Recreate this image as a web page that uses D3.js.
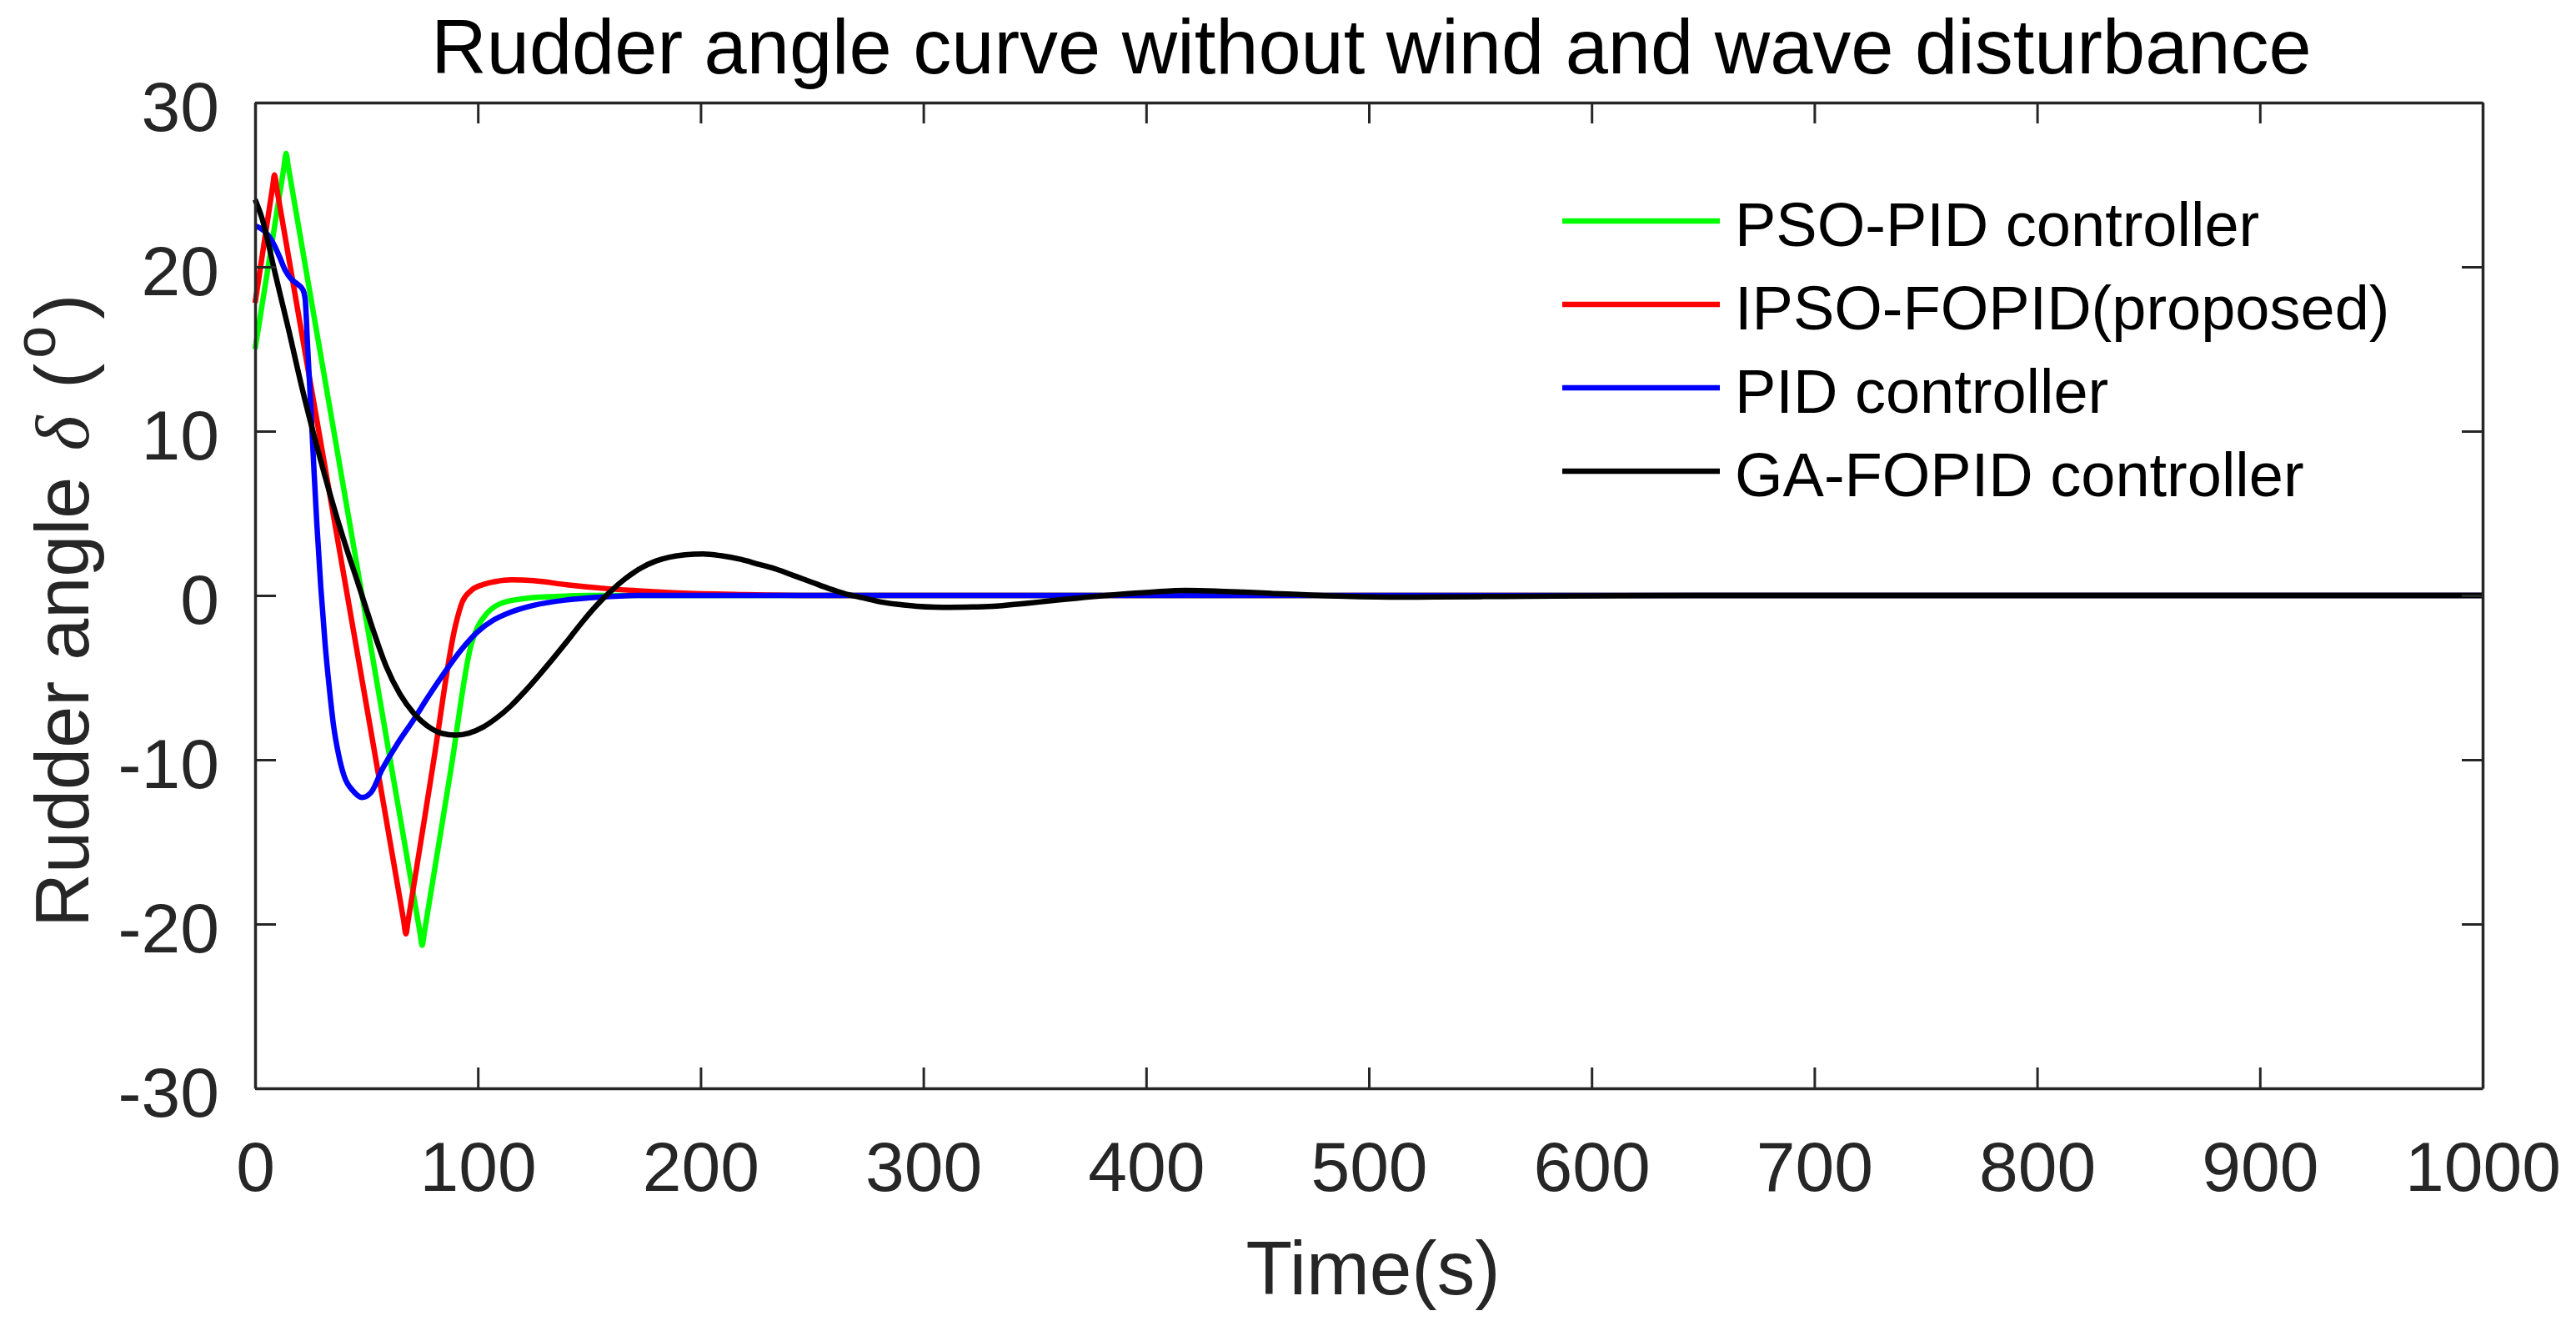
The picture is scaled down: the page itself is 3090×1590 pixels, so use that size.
<!DOCTYPE html>
<html>
<head>
<meta charset="utf-8">
<script src="https://cdn.jsdelivr.net/npm/d3@7"></script>
<style>
  body { margin: 0; background: #fff; }
  svg { display: block; font-family: "Liberation Sans", Arial, sans-serif; }
</style>
</head>
<body>
<svg id="chart"></svg>
<script>
// Curves: [time (s), rudder angle (deg)]
const psoPid = [
  [0, 15.0], [13, 26.1], [13.9, 26.9], [14.9, 26.1], [30, 14.2], [45, 2.4], [60, -9.5],
  [74, -20.5], [75, -21.3], [76, -20.5], [88, -10.5], [97, -3.0], [100, -1.9], [104, -1.1],
  [110, -0.5], [120, -0.2], [135, -0.06], [150, 0], [1000, 0]
];
const ipsoFopid = [
  [0, 17.8], [8, 25.0], [8.7, 25.6], [9.7, 24.8], [25, 12.8], [40, 1.1], [55, -10.6],
  [66.7, -19.8], [67.7, -20.6], [68.7, -19.8], [80, -10.2], [90, -1.8], [93, -0.4],
  [97, 0.3], [102, 0.65], [108, 0.85], [115, 0.95], [125, 0.9], [140, 0.65], [155, 0.45],
  [170, 0.3], [190, 0.15], [220, 0.05], [250, 0], [1000, 0]
];
const pid = [
  [0, 22.5], [4, 22.2], [8.3, 21.4], [11, 20.6], [13.5, 19.8], [16, 19.3], [19, 18.95],
  [21.5, 18.6], [22.5, 18.0], [23.6, 15.1], [24.8, 12.0], [26.3, 8.0], [27.7, 4.4],
  [29.5, 0.5], [31.4, -2.9], [33.3, -5.6], [35.2, -7.9], [37.5, -9.7], [40, -11.0],
  [44, -11.9], [48, -12.3], [52, -12.0], [57, -10.6], [64, -9.0], [71, -7.6], [78, -6.1],
  [85, -4.7], [92, -3.4], [100, -2.2], [107, -1.5], [115, -1.0], [125, -0.6], [140, -0.27],
  [155, -0.1], [175, 0], [1000, 0]
];
const gaFopid = [
  [0, 24.1], [3, 23.0], [9, 19.6], [15, 16.2], [21.3, 12.5], [27.5, 9.2], [34, 6.0],
  [40, 3.3], [46.4, 0.66], [52.5, -1.9], [58.8, -4.3], [65, -6.0], [71.4, -7.2], [78, -8.0],
  [84, -8.4], [90, -8.5], [96, -8.38], [102.5, -8.0], [108, -7.5], [115, -6.7], [121, -5.85],
  [127.5, -4.85], [134, -3.8], [140, -2.8], [147, -1.6], [153, -0.65], [160, 0.3], [166, 1.0],
  [173, 1.65], [180, 2.1], [186, 2.33], [193, 2.47], [201, 2.52], [209, 2.42], [218, 2.2],
  [226, 1.9], [234, 1.6], [242, 1.2], [250, 0.8], [258, 0.4], [265, 0.1], [273, -0.15],
  [281, -0.4], [289, -0.55], [297, -0.66], [305, -0.71], [312, -0.72], [322, -0.7],
  [333, -0.65], [342, -0.53], [352, -0.4], [361, -0.27], [370, -0.15], [380, -0.02],
  [391, 0.1], [404, 0.22], [418, 0.3], [431, 0.27], [444, 0.2], [457, 0.12], [470, 0.05],
  [483, -0.03], [496, -0.08], [510, -0.1], [530, -0.09], [560, -0.06], [600, -0.02],
  [650, 0], [1000, 0]
];

const seriesNames = ["PSO-PID controller", "IPSO-FOPID(proposed)", "PID controller", "GA-FOPID controller"];
const seriesData = [psoPid, ipsoFopid, pid, gaFopid];
const seriesColors = ["#00ff00", "#ff0000", "#0000ff", "#000000"];

const xTicks = [0, 100, 200, 300, 400, 500, 600, 700, 800, 900, 1000];
const yTicks = [-30, -20, -10, 0, 10, 20, 30];

// Set up dimensions
const width = 3090;
const height = 1590;
const margin = { top: 123, right: 112, bottom: 285, left: 306 };
const w = width - margin.left - margin.right;
const h = height - margin.top - margin.bottom;
const axisColor = "#262626";

const svg = d3.select("#chart")
    .attr("width", width)
    .attr("height", height);

const g = svg.append("g")
    .attr("transform", `translate(${margin.left}, ${margin.top})`);

const x = d3.scaleLinear().domain([0, 1000]).range([0, w]);
const y = d3.scaleLinear().domain([-30, 30]).range([h, 0]);

// Curves
const line = d3.line()
    .x(d => x(d[0]))
    .y(d => y(d[1]))
    .curve(d3.curveMonotoneX);

g.selectAll(".curve")
    .data(seriesData)
    .enter()
    .append("path")
    .attr("class", "curve")
    .attr("d", line)
    .attr("fill", "none")
    .attr("stroke", (d, i) => seriesColors[i])
    .attr("stroke-width", 6.5)
    .attr("stroke-linejoin", "round");

// Axes: ticks point inwards on all four sides
const fmt = d => String(d);
const tickLen = 25;

const axisB = g.append("g")
    .attr("transform", `translate(0, ${h})`)
    .call(d3.axisBottom(x).tickValues(xTicks).tickFormat(fmt).tickSizeInner(-tickLen).tickSizeOuter(0));
const axisL = g.append("g")
    .call(d3.axisLeft(y).tickValues(yTicks).tickFormat(fmt).tickSizeInner(-tickLen).tickSizeOuter(0));
const axisT = g.append("g")
    .call(d3.axisTop(x).tickValues(xTicks).tickFormat("").tickSizeInner(-tickLen).tickSizeOuter(0));
const axisR = g.append("g")
    .attr("transform", `translate(${w}, 0)`)
    .call(d3.axisRight(y).tickValues(yTicks).tickFormat("").tickSizeInner(-tickLen).tickSizeOuter(0));

[axisB, axisL, axisT, axisR].forEach(a => {
    a.select(".domain").attr("stroke", axisColor).attr("stroke-width", 3.5);
    a.selectAll(".tick line").attr("stroke", axisColor).attr("stroke-width", 3);
    a.selectAll(".tick text").attr("fill", axisColor).attr("font-size", 84)
        .attr("font-family", "Liberation Sans, Arial, sans-serif");
});

axisB.selectAll(".tick text").attr("y", 123).attr("dy", null);
axisL.selectAll(".tick text").attr("x", -43).attr("dy", "0.4em");

// Title
svg.append("text")
    .attr("x", 1645)
    .attr("y", 88)
    .attr("text-anchor", "middle")
    .attr("font-size", 92)
    .attr("fill", "#000")
    .text("Rudder angle curve without wind and wave disturbance");

// X label
svg.append("text")
    .attr("x", 1647)
    .attr("y", 1552)
    .attr("text-anchor", "middle")
    .attr("font-size", 91)
    .attr("fill", axisColor)
    .text("Time(s)");

// Y label
const ylab = svg.append("text")
    .attr("transform", "translate(106, 1112) rotate(-90)")
    .attr("font-size", 90)
    .attr("fill", axisColor);
ylab.append("tspan").text("Rudder angle ");
ylab.append("tspan")
    .attr("dx", 6)
    .attr("font-family", "Liberation Serif, Times New Roman, serif")
    .attr("font-style", "italic")
    .text("δ");
ylab.append("tspan").attr("dx", 8).text(" (");
ylab.append("tspan").attr("font-size", 70).attr("dx", 6).attr("dy", -40).text("o");
ylab.append("tspan").attr("dx", 8).attr("dy", 40).text(")");

// Legend
const legends = svg.selectAll(".legend")
    .data(seriesNames)
    .enter()
    .append("g")
    .attr("class", "legend")
    .attr("transform", (d, i) => `translate(1874, ${265 + i * 100})`);

legends.append("line")
    .attr("x1", 0)
    .attr("x2", 189)
    .attr("stroke", (d, i) => seriesColors[i])
    .attr("stroke-width", 6.5);

legends.append("text")
    .text(d => d)
    .attr("x", 207)
    .attr("y", 30)
    .attr("font-size", 74)
    .attr("fill", "#000");
</script>
</body>
</html>
